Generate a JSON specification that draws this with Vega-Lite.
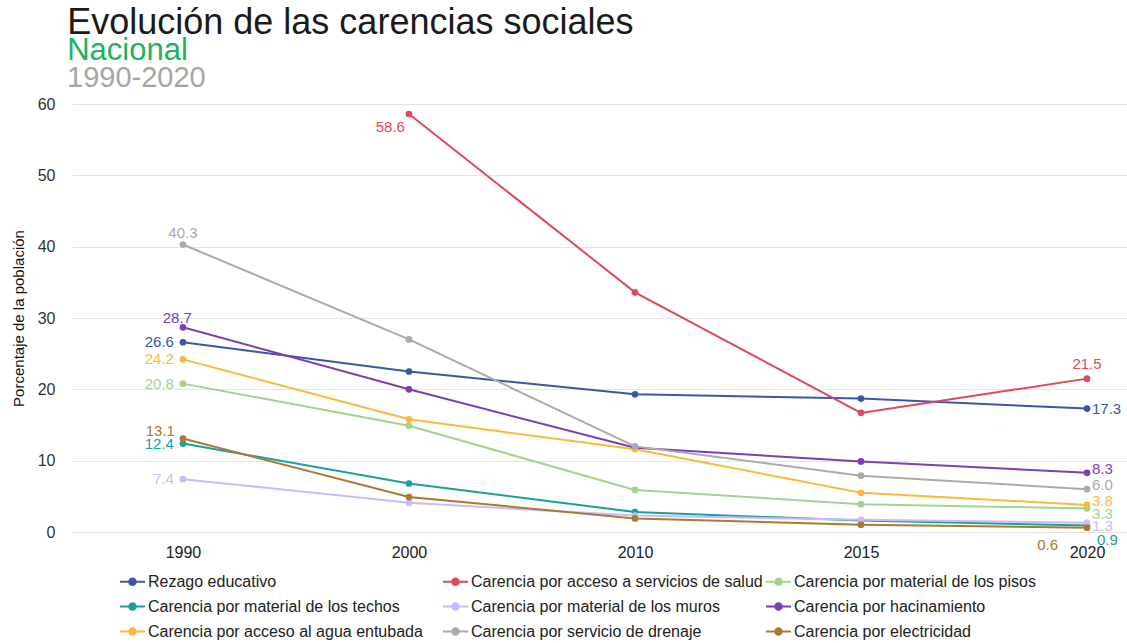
{
  "$schema": "https://vega.github.io/schema/vega-lite/v6.json",
  "padding": {"left": 11, "top": 5, "right": 0, "bottom": 0},
  "background": "white",
  "config": {
    "font": "Liberation Sans",
    "view": {"stroke": null},
    "axis": {"labelFont": "Liberation Sans", "titleFont": "Liberation Sans"}
  },
  "title": {
    "text": "Evolución de las carencias sociales",
    "subtitle": "Nacional",
    "anchor": "start",
    "frame": "bounds",
    "fontSize": 36,
    "fontWeight": "normal",
    "color": "#1a1a1a",
    "subtitleColor": "#21b25b",
    "subtitleFontSize": 31,
    "subtitlePadding": -6,
    "dx": 56,
    "offset": -3
  },
  "data": {
    "values": [
      {"serie": "Rezago educativo", "year": 1990, "value": 26.6},
      {"serie": "Rezago educativo", "year": 2000, "value": 22.5},
      {"serie": "Rezago educativo", "year": 2010, "value": 19.3},
      {"serie": "Rezago educativo", "year": 2015, "value": 18.7},
      {"serie": "Rezago educativo", "year": 2020, "value": 17.3},
      {"serie": "Carencia por acceso a servicios de salud", "year": 2000, "value": 58.6},
      {"serie": "Carencia por acceso a servicios de salud", "year": 2010, "value": 33.6},
      {"serie": "Carencia por acceso a servicios de salud", "year": 2015, "value": 16.7},
      {"serie": "Carencia por acceso a servicios de salud", "year": 2020, "value": 21.5},
      {"serie": "Carencia por material de los pisos", "year": 1990, "value": 20.8},
      {"serie": "Carencia por material de los pisos", "year": 2000, "value": 14.9},
      {"serie": "Carencia por material de los pisos", "year": 2010, "value": 5.9},
      {"serie": "Carencia por material de los pisos", "year": 2015, "value": 3.9},
      {"serie": "Carencia por material de los pisos", "year": 2020, "value": 3.3},
      {"serie": "Carencia por material de los techos", "year": 1990, "value": 12.4},
      {"serie": "Carencia por material de los techos", "year": 2000, "value": 6.8},
      {"serie": "Carencia por material de los techos", "year": 2010, "value": 2.8},
      {"serie": "Carencia por material de los techos", "year": 2015, "value": 1.6},
      {"serie": "Carencia por material de los techos", "year": 2020, "value": 0.9},
      {"serie": "Carencia por material de los muros", "year": 1990, "value": 7.4},
      {"serie": "Carencia por material de los muros", "year": 2000, "value": 4.1},
      {"serie": "Carencia por material de los muros", "year": 2010, "value": 2.3},
      {"serie": "Carencia por material de los muros", "year": 2015, "value": 1.7},
      {"serie": "Carencia por material de los muros", "year": 2020, "value": 1.3},
      {"serie": "Carencia por hacinamiento", "year": 1990, "value": 28.7},
      {"serie": "Carencia por hacinamiento", "year": 2000, "value": 20.0},
      {"serie": "Carencia por hacinamiento", "year": 2010, "value": 11.8},
      {"serie": "Carencia por hacinamiento", "year": 2015, "value": 9.9},
      {"serie": "Carencia por hacinamiento", "year": 2020, "value": 8.3},
      {"serie": "Carencia por acceso al agua entubada", "year": 1990, "value": 24.2},
      {"serie": "Carencia por acceso al agua entubada", "year": 2000, "value": 15.8},
      {"serie": "Carencia por acceso al agua entubada", "year": 2010, "value": 11.6},
      {"serie": "Carencia por acceso al agua entubada", "year": 2015, "value": 5.5},
      {"serie": "Carencia por acceso al agua entubada", "year": 2020, "value": 3.8},
      {"serie": "Carencia por servicio de drenaje", "year": 1990, "value": 40.3},
      {"serie": "Carencia por servicio de drenaje", "year": 2000, "value": 27.0},
      {"serie": "Carencia por servicio de drenaje", "year": 2010, "value": 12.0},
      {"serie": "Carencia por servicio de drenaje", "year": 2015, "value": 7.9},
      {"serie": "Carencia por servicio de drenaje", "year": 2020, "value": 6.0},
      {"serie": "Carencia por electricidad", "year": 1990, "value": 13.1},
      {"serie": "Carencia por electricidad", "year": 2000, "value": 4.9},
      {"serie": "Carencia por electricidad", "year": 2010, "value": 1.9},
      {"serie": "Carencia por electricidad", "year": 2015, "value": 1.0},
      {"serie": "Carencia por electricidad", "year": 2020, "value": 0.6}
    ]
  },
  "vconcat": [
    {
      "title": {
        "text": "1990-2020",
        "anchor": "start",
        "frame": "group",
        "fontSize": 29,
        "fontWeight": "normal",
        "color": "#a6a6a6",
        "offset": 3,
        "dx": -5
      },
      "width": 1055,
      "height": 428,
      "encoding": {
        "x": {
          "field": "year",
          "type": "ordinal",
          "scale": {"type": "point", "padding": 0.334, "align": 0.735},
          "axis": {
            "title": null,
            "labelAngle": 0,
            "labelFontSize": 16,
            "labelColor": "#222",
            "labelPadding": 12,
            "ticks": false,
            "tickSize": 0,
            "domain": false,
            "grid": false
          }
        },
        "y": {
          "field": "value",
          "type": "quantitative",
          "scale": {"domain": [0, 60], "nice": false},
          "axis": {
            "title": "Porcentaje de la población",
            "titleFontSize": 15,
            "titleFontWeight": "normal",
            "titleColor": "#111",
            "titlePadding": 11,
            "values": [0, 10, 20, 30, 40, 50, 60],
            "labelFontSize": 16,
            "labelColor": "#333",
            "labelPadding": 17,
            "ticks": false,
            "tickSize": 0,
            "domain": false,
            "gridColor": "#e5e5e5",
            "gridWidth": 1
          }
        },
        "color": {
          "field": "serie",
          "type": "nominal",
          "scale": {
            "domain": [
              "Rezago educativo",
              "Carencia por acceso a servicios de salud",
              "Carencia por material de los pisos",
              "Carencia por material de los techos",
              "Carencia por material de los muros",
              "Carencia por hacinamiento",
              "Carencia por acceso al agua entubada",
              "Carencia por servicio de drenaje",
              "Carencia por electricidad"
            ],
            "range": ["#3c56a6", "#e0485c", "#a3d38c", "#18a19b", "#cbb9fc", "#7d3db4", "#fdb83b", "#ababab", "#a97a30"]
          },
          "legend": {
            "title": null,
            "orient": "none",
            "legendX": 47,
            "legendY": 464,
            "direction": "horizontal",
            "columns": 3,
            "gridAlign": "all",
            "columnPadding": -1,
            "rowPadding": 3,
            "labelFontSize": 16,
            "labelColor": "#222",
            "labelFont": "Liberation Sans",
            "labelLimit": 400,
            "labelOffset": 2,
            "symbolType": "M-1,0H1M-0.26,0A0.26,0.26 0 1 0 0.26,0A0.26,0.26 0 1 0 -0.26,0",
            "symbolSize": 625,
            "symbolStrokeWidth": 2
          }
        }
      },
      "layer": [
        {
          "mark": {"type": "line", "strokeWidth": 2, "point": {"filled": true, "size": 45}}
        },
        {
          "transform": [{"filter": "datum.year == 1990 && indexof(['Rezago educativo','Carencia por material de los pisos','Carencia por material de los techos','Carencia por material de los muros','Carencia por acceso al agua entubada'], datum.serie) >= 0"}],
          "mark": {"type": "text", "align": "right", "baseline": "middle", "dx": -9, "fontSize": 15},
          "encoding": {"text": {"field": "value", "format": ".1f"}}
        },
        {
          "transform": [{"filter": "datum.year == 1990 && datum.serie == 'Carencia por electricidad'"}],
          "mark": {"type": "text", "align": "right", "baseline": "middle", "dx": -8, "dy": -8, "fontSize": 15},
          "encoding": {"text": {"field": "value", "format": ".1f"}}
        },
        {
          "transform": [{"filter": "datum.year == 1990 && datum.serie == 'Carencia por hacinamiento'"}],
          "mark": {"type": "text", "align": "right", "baseline": "middle", "dx": 9, "dy": -9, "fontSize": 15},
          "encoding": {"text": {"field": "value", "format": ".1f"}}
        },
        {
          "transform": [{"filter": "datum.year == 1990 && datum.serie == 'Carencia por servicio de drenaje'"}],
          "mark": {"type": "text", "align": "center", "baseline": "middle", "dy": -12, "fontSize": 15},
          "encoding": {"text": {"field": "value", "format": ".1f"}}
        },
        {
          "transform": [{"filter": "datum.year == 2000 && datum.serie == 'Carencia por acceso a servicios de salud'"}],
          "mark": {"type": "text", "align": "right", "baseline": "middle", "dx": -4, "dy": 13, "fontSize": 15},
          "encoding": {"text": {"field": "value", "format": ".1f"}}
        },
        {
          "transform": [{"filter": "datum.year == 2020 && datum.serie == 'Carencia por acceso a servicios de salud'"}],
          "mark": {"type": "text", "align": "center", "baseline": "middle", "dy": -15, "fontSize": 15},
          "encoding": {"text": {"field": "value", "format": ".1f"}}
        },
        {
          "transform": [{"filter": "datum.year == 2020 && datum.serie == 'Rezago educativo'"}],
          "mark": {"type": "text", "align": "left", "baseline": "middle", "dx": 5, "fontSize": 15},
          "encoding": {"text": {"field": "value", "format": ".1f"}}
        },
        {
          "transform": [{"filter": "datum.year == 2020 && indexof(['Carencia por hacinamiento','Carencia por servicio de drenaje','Carencia por acceso al agua entubada'], datum.serie) >= 0"}],
          "mark": {"type": "text", "align": "left", "baseline": "middle", "dx": 5, "dy": -4, "fontSize": 15},
          "encoding": {"text": {"field": "value", "format": ".1f"}}
        },
        {
          "transform": [{"filter": "datum.year == 2020 && datum.serie == 'Carencia por material de los pisos'"}],
          "mark": {"type": "text", "align": "left", "baseline": "middle", "dx": 5, "dy": 6, "fontSize": 15},
          "encoding": {"text": {"field": "value", "format": ".1f"}}
        },
        {
          "transform": [{"filter": "datum.year == 2020 && datum.serie == 'Carencia por material de los muros'"}],
          "mark": {"type": "text", "align": "left", "baseline": "middle", "dx": 5, "dy": 3, "fontSize": 15},
          "encoding": {"text": {"field": "value", "format": ".1f"}}
        },
        {
          "transform": [{"filter": "datum.year == 2020 && datum.serie == 'Carencia por material de los techos'"}],
          "mark": {"type": "text", "align": "left", "baseline": "middle", "dx": 10, "dy": 14, "fontSize": 15},
          "encoding": {"text": {"field": "value", "format": ".1f"}}
        },
        {
          "transform": [{"filter": "datum.year == 2020 && datum.serie == 'Carencia por electricidad'"}],
          "mark": {"type": "text", "align": "right", "baseline": "middle", "dx": -29, "dy": 17, "fontSize": 15},
          "encoding": {"text": {"field": "value", "format": ".1f"}}
        }
      ]
    }
  ]
}
